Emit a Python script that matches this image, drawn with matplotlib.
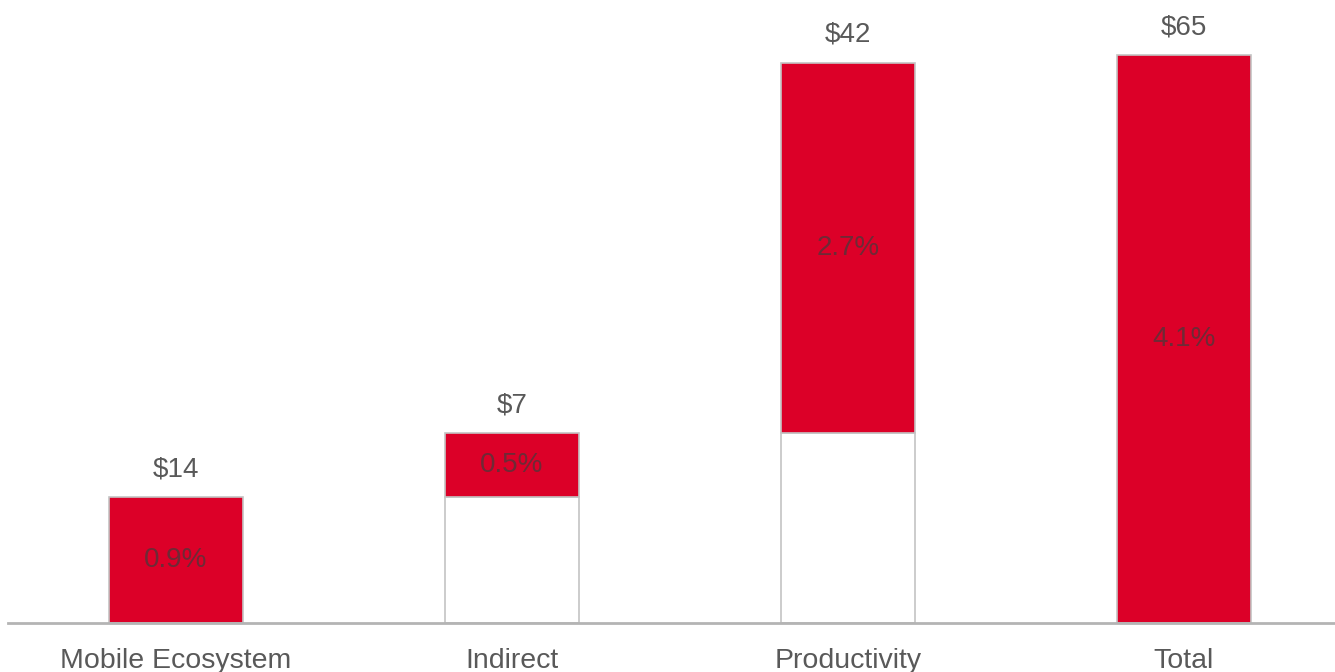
import matplotlib.pyplot as plt
import numpy as np

categories = ["Mobile Ecosystem", "Indirect", "Productivity", "Total"]
values = [14.4, 7.3, 42.4, 65.0]
bases = [0, 14.4, 21.7, 0]
value_labels = ["$14", "$7", "$42", "$65"]
pct_labels = ["0.9%", "0.5%", "2.7%", "4.1%"]

red = "#DC0028"
edge = "#c4c4c4"
text_gray = "#595959"

plt.rcParams['font.family'] = ['Liberation Sans', 'DejaVu Sans']

fig = plt.figure(figsize=(13.35, 6.72), dpi=100)
ax = fig.add_axes([8 / 1335, 49 / 672, 1327 / 1335, 623 / 672])

x = np.arange(len(categories))

# white base bars with light outline (waterfall offsets)
for i in range(len(categories)):
	if bases[i] > 0:
		ax.bar(x[i], bases[i], width=0.4, color="white", edgecolor=edge, linewidth=1.2)

ax.bar(x, values, bottom=bases, width=0.4, color=red, edgecolor=edge, linewidth=1.2)

for i in range(len(categories)):
	top = bases[i] + values[i]
	ax.text(x[i], top + 1.7, value_labels[i], ha="center", va="bottom",
		fontsize=20, color=text_gray)
	ax.text(x[i], bases[i] + values[i] / 2.0, pct_labels[i], ha="center", va="center",
		fontsize=20, color="#6e2a36")

ax.set_xlim(-0.5, 3.45)
ax.set_ylim(0, 623 / 8.74)
ax.set_xticks(x)
ax.set_xticklabels(categories, fontsize=20.5, color=text_gray)
ax.tick_params(axis="x", length=0, pad=18)
ax.set_yticks([])

for side in ["top", "right", "left"]:
	ax.spines[side].set_visible(False)
ax.spines["bottom"].set_color("#b4b4b4")
ax.spines["bottom"].set_linewidth(2)

plt.savefig("out.png", dpi=100)
plt.close()
